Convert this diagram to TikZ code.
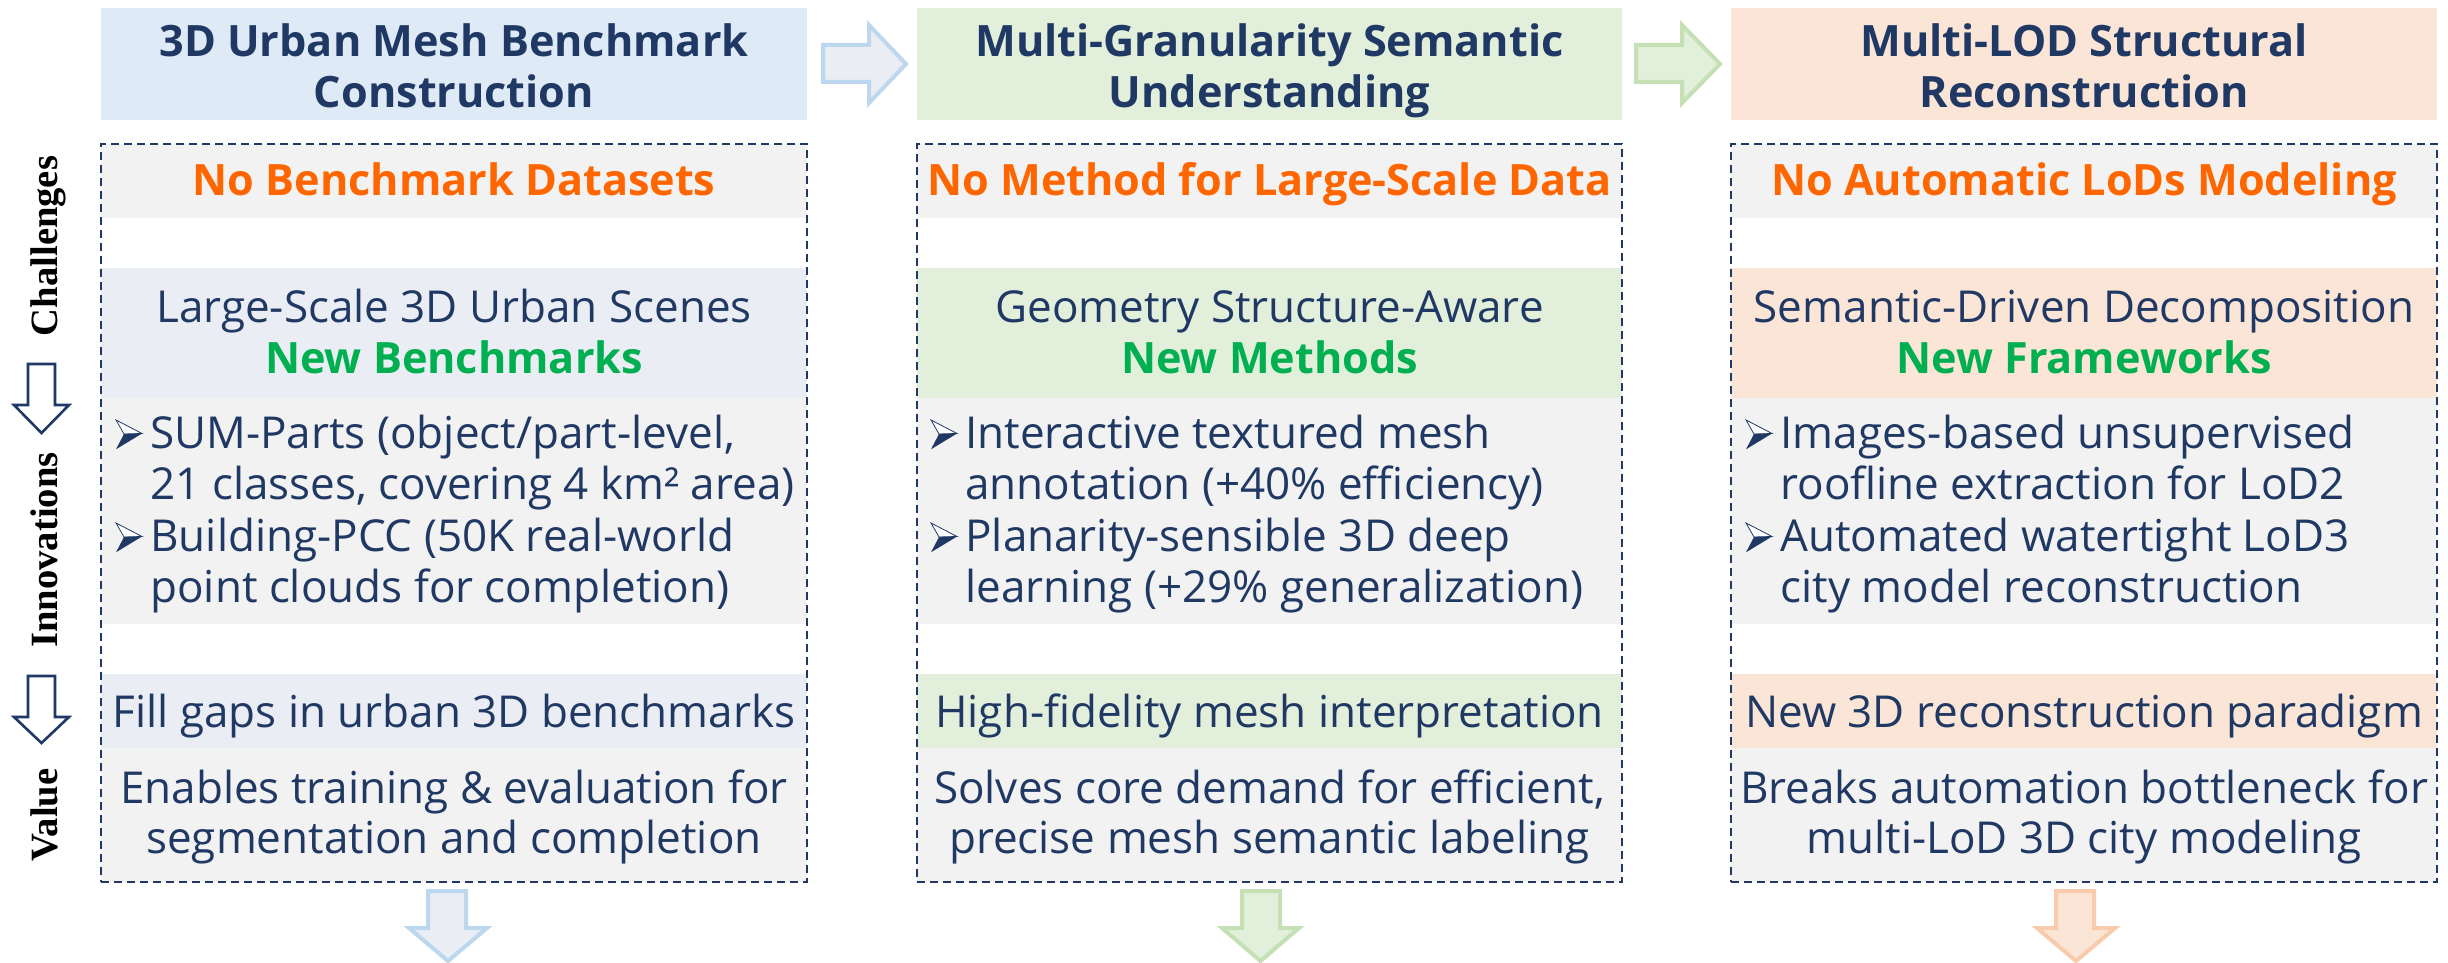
\documentclass[tikz,border=0pt]{standalone}
\usepackage{fontspec}
\setmainfont{Open Sans}
\newfontfamily\labelfont{Liberation Serif}
\usetikzlibrary{fit}
\definecolor{navy}{HTML}{1F3864}
\definecolor{orangeC}{HTML}{FF6600}
\definecolor{greenC}{HTML}{00B050}
\definecolor{grayrow}{HTML}{F2F2F2}
\definecolor{blueH}{HTML}{DEEAF6}
\definecolor{blueL}{HTML}{EAEDF3}
\definecolor{blueS}{HTML}{BDD7EE}
\definecolor{greenH}{HTML}{E2EFDA}
\definecolor{greenS}{HTML}{C5E0B4}
\definecolor{peachH}{HTML}{FBE5D6}
\definecolor{peachS}{HTML}{F8CBAD}
\tikzset{
  band/.style={inner sep=0pt, outer sep=0pt, draw=none},
  dashbox/.style={inner sep=0pt, outer sep=0pt, draw=navy, line width=1.3pt, dash pattern=on 4pt off 2.5pt},
  txt/.style={inner sep=0pt, text=navy, font=\fontsize{22}{26}\selectfont},
  ttl/.style={txt, font=\fontsize{21.6}{26}\selectfont\bfseries},
  chal/.style={txt, text=orangeC, font=\fontsize{21.6}{26}\selectfont\bfseries},
  newt/.style={txt, text=greenC, font=\fontsize{21.6}{26}\selectfont\bfseries},
  side/.style={inner sep=0pt, text=black, rotate=90, anchor=base, font=\fontsize{19.3}{22}\labelfont\bfseries},
  sidearrow/.style={draw=navy, fill=white, line width=1.3pt, line join=miter},
  blockarrow/.style={line width=2pt, line join=miter},
  bullet/.pic={
    \filldraw[navy, fill=white, line width=0.4pt] (0,-28) -- (26,-14.5) -- (8,-14) -- cycle;
    \fill[navy] (8,-14) -- (26,-14.5) -- (0,1.3) -- cycle;
  }
}
\begin{document}
\begin{tikzpicture}[x=0.5pt,y=-0.5pt]
\useasboundingbox (0,0) rectangle (2448,963);
\fill[white] (0,0) rectangle (2448,963);

% ---------- side labels ----------
\node[side] (lc) at (57,246) {Challenges};
\node[side] (li) at (57,550) {Innovations};
\node[side] (lv) at (57,815) {Value};
\draw[sidearrow] (28,364) -- (55,364) -- (55,405) -- (69,405) -- (41.5,433) -- (14,405) -- (28,405) -- cycle;
\draw[sidearrow] (28,676) -- (55,676) -- (55,717) -- (69,717) -- (41.5,743) -- (14,717) -- (28,717) -- cycle;

% ---------- column 1 ----------
\node[band, fill=blueH, fit={(101,8) (807,120)}] (h1) {};
\node[band, fill=grayrow, fit={(101,144) (807,218)}] (c1a) {};
\node[band, fill=blueL, fit={(101,268) (807,398)}] (c1b) {};
\node[band, fill=grayrow, fit={(101,398) (807,624)}] (c1c) {};
\node[band, fill=blueL, fit={(101,674) (807,748)}] (c1d) {};
\node[band, fill=grayrow, fit={(101,748) (807,882)}] (c1e) {};
\node[dashbox, fit={(101,144) (807,882)}] (box1) {};

\node[ttl, anchor=base] at (454,57) {3D Urban Mesh Benchmark};
\node[ttl, anchor=base] at (454,108) {Construction};
\node[chal, anchor=base] at (454,195) {No Benchmark Datasets};
\node[txt, anchor=base] at (454,322) {Large-Scale 3D Urban Scenes};
\node[newt, anchor=base] at (454,373) {New Benchmarks};
\pic at (116,448) {bullet};
\node[txt, anchor=base west] at (150,448) {SUM-Parts (object/part-level,};
\node[txt, anchor=base west] at (150,499) {21 classes, covering 4 km² area)};
\pic at (116,551) {bullet};
\node[txt, anchor=base west] at (150,551) {Building-PCC (50K real-world};
\node[txt, anchor=base west] at (150,602) {point clouds for completion)};
\node[txt, anchor=base] at (454,727) {Fill gaps in urban 3D benchmarks};
\node[txt, anchor=base] at (454,803) {Enables training \& evaluation for};
\node[txt, anchor=base] at (454,853) {segmentation and completion};

% ---------- column 2 ----------
\node[band, fill=greenH, fit={(917,8) (1622,120)}] (h2) {};
\node[band, fill=grayrow, fit={(917,144) (1622,218)}] (c2a) {};
\node[band, fill=greenH, fit={(917,268) (1622,398)}] (c2b) {};
\node[band, fill=grayrow, fit={(917,398) (1622,624)}] (c2c) {};
\node[band, fill=greenH, fit={(917,674) (1622,748)}] (c2d) {};
\node[band, fill=grayrow, fit={(917,748) (1622,882)}] (c2e) {};
\node[dashbox, fit={(917,144) (1622,882)}] (box2) {};

\node[ttl, anchor=base] at (1269.5,57) {Multi-Granularity Semantic};
\node[ttl, anchor=base] at (1269.5,108) {Understanding};
\node[chal, anchor=base] at (1269.5,195) {No Method for Large-Scale Data};
\node[txt, anchor=base] at (1269.5,322) {Geometry Structure-Aware};
\node[newt, anchor=base] at (1269.5,373) {New Methods};
\pic at (931,448) {bullet};
\node[txt, anchor=base west] at (965,448) {Interactive textured mesh};
\node[txt, anchor=base west] at (965,499) {annotation (+40\% efficiency)};
\pic at (931,551) {bullet};
\node[txt, anchor=base west] at (965,551) {Planarity-sensible 3D deep};
\node[txt, anchor=base west] at (965,602) {learning (+29\% generalization)};
\node[txt, anchor=base] at (1269.5,727) {High-fidelity mesh interpretation};
\node[txt, anchor=base] at (1269.5,803) {Solves core demand for efficient,};
\node[txt, anchor=base] at (1269.5,853) {precise mesh semantic labeling};

% ---------- column 3 ----------
\node[band, fill=peachH, fit={(1731,8) (2437,120)}] (h3) {};
\node[band, fill=grayrow, fit={(1731,144) (2437,218)}] (c3a) {};
\node[band, fill=peachH, fit={(1731,268) (2437,398)}] (c3b) {};
\node[band, fill=grayrow, fit={(1731,398) (2437,624)}] (c3c) {};
\node[band, fill=peachH, fit={(1731,674) (2437,748)}] (c3d) {};
\node[band, fill=grayrow, fit={(1731,748) (2437,882)}] (c3e) {};
\node[dashbox, fit={(1731,144) (2437,882)}] (box3) {};

\node[ttl, anchor=base] at (2084,57) {Multi-LOD Structural};
\node[ttl, anchor=base] at (2084,108) {Reconstruction};
\node[chal, anchor=base] at (2084,195) {No Automatic LoDs Modeling};
\node[txt, anchor=base] at (2084,322) {Semantic-Driven Decomposition};
\node[newt, anchor=base] at (2084,373) {New Frameworks};
\pic at (1746,448) {bullet};
\node[txt, anchor=base west] at (1780,448) {Images-based unsupervised};
\node[txt, anchor=base west] at (1780,499) {roofline extraction for LoD2};
\pic at (1746,551) {bullet};
\node[txt, anchor=base west] at (1780,551) {Automated watertight LoD3};
\node[txt, anchor=base west] at (1780,602) {city model reconstruction};
\node[txt, anchor=base] at (2084,727) {New 3D reconstruction paradigm};
\node[txt, anchor=base] at (2084,803) {Breaks automation bottleneck for};
\node[txt, anchor=base] at (2084,853) {multi-LoD 3D city modeling};

% ---------- block arrows between headers ----------
\draw[blockarrow, draw=blueS, fill=blueL] (823,45) -- (869,45) -- (869,25) -- (906,64) -- (869,103) -- (869,82) -- (823,82) -- cycle;
\draw[blockarrow, draw=greenS, fill=greenH] (1636,45) -- (1682,45) -- (1682,25) -- (1720,64) -- (1682,103) -- (1682,82) -- (1636,82) -- cycle;

% ---------- bottom arrows ----------
\draw[blockarrow, draw=blueS, fill=blueL] (428,891) -- (466,891) -- (466,928) -- (487,928) -- (448,961) -- (409,928) -- (428,928) -- cycle;
\draw[blockarrow, draw=greenS, fill=greenH] (1242,891) -- (1280,891) -- (1280,928) -- (1299,928) -- (1260.5,961) -- (1222,928) -- (1242,928) -- cycle;
\draw[blockarrow, draw=peachS, fill=peachH] (2056,891) -- (2094,891) -- (2094,928) -- (2115,928) -- (2076,961) -- (2037,928) -- (2056,928) -- cycle;
\end{tikzpicture}
\end{document}
